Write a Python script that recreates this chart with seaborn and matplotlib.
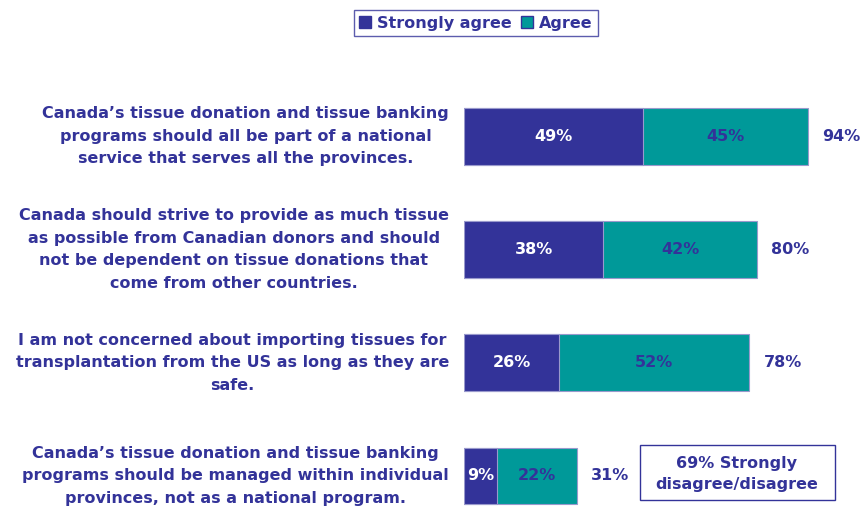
import seaborn as sns
import matplotlib.pyplot as plt
from matplotlib.patches import Patch, Rectangle
import pandas as pd

statements = [
    "Canada’s tissue donation and tissue banking\nprograms should all be part of a national\nservice that serves all the provinces.",
    "Canada should strive to provide as much tissue\nas possible from Canadian donors and should\nnot be dependent on tissue donations that\ncome from other countries.",
    "I am not concerned about importing tissues for\ntransplantation from the US as long as they are\nsafe.",
    "Canada’s tissue donation and tissue banking\nprograms should be managed within individual\nprovinces, not as a national program.",
]
strongly_agree = [49, 38, 26, 9]
agree = [45, 42, 52, 22]

BLUE = "#333399"
TEAL = "#009999"
FS = 11.5
W, H = 860, 511

df = pd.DataFrame({"statement": statements, "strong": strongly_agree, "agree": agree})
df["total"] = df["strong"] + df["agree"]

sns.set_style("white")
plt.rcParams["font.family"] = ["DejaVu Sans"]

fig = plt.figure(figsize=(8.6, 5.11), dpi=100)
ax = fig.add_axes([464 / W, 0, 1 - 464 / W, 1])

# teal (total) behind, blue (strongly agree) on top
sns.barplot(data=df, x="total", y="statement", color=TEAL, width=0.5,
            edgecolor="#9999cc", linewidth=0.8, saturation=1, ax=ax)
sns.barplot(data=df, x="strong", y="statement", color=BLUE, width=0.5,
            edgecolor="#9999cc", linewidth=0.8, saturation=1, ax=ax)

ax.set_xlim(0, 396 / 3.66)
ax.set_ylim(3 + 35 / 113, -136 / 113)
ax.axis("off")

for i, row in df.iterrows():
    ax.text(row["strong"] / 2, i, f"{row['strong']}%", color="white",
            ha="center", va="center", fontsize=FS, fontweight="bold")
    ax.text(row["strong"] + row["agree"] / 2, i, f"{row['agree']}%", color=BLUE,
            ha="center", va="center", fontsize=FS, fontweight="bold")
    ax.text(row["total"] + 3.8, i, f"{row['total']}%", color=BLUE,
            ha="left", va="center", fontsize=FS, fontweight="bold")
    ax.text(-4.1, i, row["statement"], color=BLUE, ha="right",
            va="center", multialignment="center", fontsize=FS,
            fontweight="bold", linespacing=1.62, clip_on=False)

# note box for the last statement
fig.add_artist(Rectangle((640 / W, 1 - 500 / H), 195 / W, 55 / H,
                         transform=fig.transFigure, facecolor="white",
                         edgecolor=BLUE, linewidth=1))
fig.text(737 / W, 1 - 474 / H, "69% Strongly\ndisagree/disagree", color=BLUE,
         ha="center", va="center", fontsize=FS, fontweight="bold",
         linespacing=1.5)

handles = [Patch(facecolor=BLUE, edgecolor=BLUE), Patch(facecolor=TEAL, edgecolor=BLUE)]
leg = fig.legend(handles, ["Strongly agree", "Agree"], loc="center",
                 bbox_to_anchor=(476 / W, 1 - 23 / H), ncol=2, frameon=True,
                 fancybox=False, edgecolor=BLUE, fontsize=FS,
                 handlelength=0.75, handleheight=0.75, handletextpad=0.35,
                 columnspacing=0.6, borderpad=0.35, borderaxespad=0)
leg.get_frame().set_linewidth(1)
for t in leg.get_texts():
    t.set_color(BLUE)
    t.set_fontweight("bold")

fig.savefig("out.png", dpi=100)
